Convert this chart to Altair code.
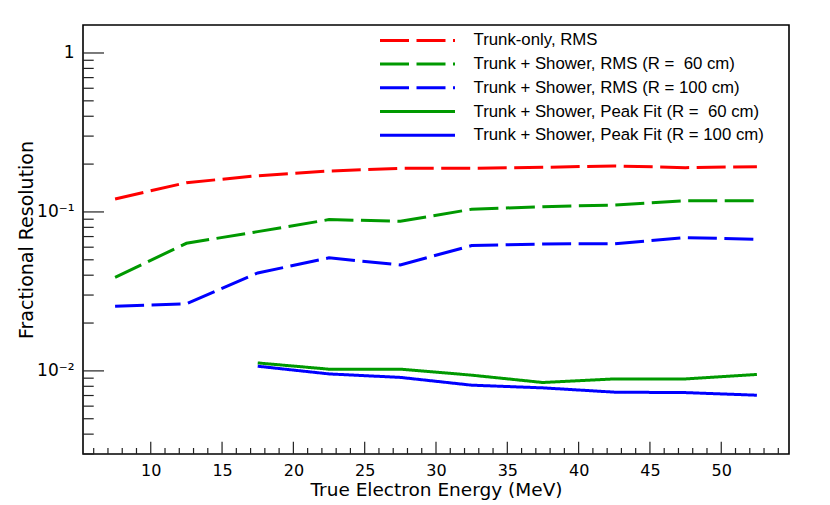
import altair as alt
import pandas as pd

# ---------------- data ----------------
energy = [7.5, 12.5, 17.5, 22.5, 27.5, 32.5, 37.5, 42.5, 47.5, 52.5]
energy_fit = [17.5, 22.5, 27.5, 32.5, 37.5, 42.5, 47.5, 52.5]

trunk_rms = [0.1207, 0.1528, 0.169, 0.181, 0.188, 0.188, 0.191, 0.1946, 0.190, 0.1927]
shower_rms_60 = [0.0388, 0.0635, 0.0752, 0.0895, 0.0873, 0.104, 0.108, 0.1106, 0.1178, 0.1178]
shower_rms_100 = [0.0255, 0.0264, 0.0413, 0.0514, 0.0464, 0.0614, 0.0629, 0.0631, 0.0689, 0.0673]
peak_fit_60 = [0.01122, 0.01025, 0.01025, 0.0094, 0.00845, 0.0089, 0.0089, 0.0095]
peak_fit_100 = [0.0107, 0.00957, 0.0091, 0.00813, 0.00782, 0.00735, 0.0073, 0.00703]

series_names = [
    "Trunk-only, RMS",
    "Trunk + Shower, RMS (R =\u00a0 60 cm)",
    "Trunk + Shower, RMS (R = 100 cm)",
    "Trunk + Shower, Peak Fit (R =\u00a0 60 cm)",
    "Trunk + Shower, Peak Fit (R = 100 cm)",
]
series_colors = ["#ff0000", "#009900", "#0000ff", "#009900", "#0000ff"]
series_dash = [[29, 7.5], [29, 7.5], [29, 7.5], [1, 0], [1, 0]]

x_major = [10, 15, 20, 25, 30, 35, 40, 45, 50]
x_minor = [v for v in range(6, 55) if v % 5 != 0]
y_major = [0.01, 0.1, 1]
y_minor = [0.003, 0.004, 0.005, 0.006, 0.007, 0.008, 0.009,
           0.02, 0.03, 0.04, 0.05, 0.06, 0.07, 0.08, 0.09,
           0.2, 0.3, 0.4, 0.5, 0.6, 0.7, 0.8, 0.9]

# ---------------- build tables ----------------
rows = []
for name, xs, ys in [
    (series_names[0], energy, trunk_rms),
    (series_names[1], energy, shower_rms_60),
    (series_names[2], energy, shower_rms_100),
    (series_names[3], energy_fit, peak_fit_60),
    (series_names[4], energy_fit, peak_fit_100),
]:
    for x, y in zip(xs, ys):
        rows.append({"series": name, "v": x, "w": y})
df = pd.DataFrame(rows)

W, H = 706, 429
xscale = alt.Scale(domain=[5.25, 54.75], nice=False, zero=False)
yscale = alt.Scale(type="log", domain=[0.003, 1.5], nice=False)

x_axis = alt.Axis(values=x_major, ticks=False, domain=False, grid=False,
                  labelFont="DejaVu Sans", labelFontSize=16, labelColor="black",
                  labelPadding=8, labelFlush=False,
                  title="True Electron Energy (MeV)", titleFont="DejaVu Sans",
                  titleFontSize=18.5, titleFontWeight="normal", titleColor="black",
                  titleY=41.5, titleBaseline="alphabetic")
y_axis = alt.Axis(values=y_major, ticks=False, domain=False, grid=False,
                  labelExpr="datum.value >= 0.99 ? '1' : (datum.value >= 0.099 ? '10\u207b\u00b9' : '10\u207b\u00b2')",
                  labelFont="DejaVu Sans", labelFontSize=17, labelColor="black",
                  labelPadding=9,
                  title="Fractional Resolution", titleFont="DejaVu Sans",
                  titleFontSize=19, titleFontWeight="normal", titleColor="black",
                  titleX=-51, titleY=H / 2, titleAngle=270,
                  titleBaseline="alphabetic")

legend_cfg = dict(title=None, orient="none", legendX=295.5, legendY=7,
                  symbolType="stroke", symbolSize=5625,
                  symbolStrokeWidth=3, clipHeight=16.8, rowPadding=5.7,
                  labelOffset=17, labelFont="Liberation Sans",
                  labelFontSize=16.8, labelColor="black",
                  labelLimit=400, padding=0)

lines = alt.Chart(df).mark_line(strokeWidth=3, clip=True, strokeCap="butt").encode(
    x=alt.X("v:Q", scale=xscale, axis=x_axis, title="True Electron Energy (MeV)"),
    y=alt.Y("w:Q", scale=yscale, axis=y_axis, title="Fractional Resolution"),
    color=alt.Color("series:N",
                    scale=alt.Scale(domain=series_names, range=series_colors),
                    legend=alt.Legend(**legend_cfg)),
    strokeDash=alt.StrokeDash("series:N",
                              scale=alt.Scale(domain=series_names, range=series_dash),
                              legend=alt.Legend(**legend_cfg)),
    detail="series:N",
    order="v:Q",
)

tick_color = "#222222"
xt_major = alt.Chart(pd.DataFrame({"v": x_major})).mark_rule(color=tick_color, strokeWidth=1.2).encode(
    x=alt.X("v:Q", scale=xscale, axis=x_axis, title="True Electron Energy (MeV)"),
    y=alt.value(H), y2=alt.value(H - 12.3))
xt_minor = alt.Chart(pd.DataFrame({"v": x_minor})).mark_rule(color=tick_color, strokeWidth=1.2).encode(
    x=alt.X("v:Q", scale=xscale, axis=x_axis, title="True Electron Energy (MeV)"),
    y=alt.value(H), y2=alt.value(H - 6))
yt_major = alt.Chart(pd.DataFrame({"w": y_major})).mark_rule(color=tick_color, strokeWidth=1.2).encode(
    y=alt.Y("w:Q", scale=yscale, axis=y_axis, title="Fractional Resolution"),
    x=alt.value(0), x2=alt.value(21))
yt_minor = alt.Chart(pd.DataFrame({"w": y_minor})).mark_rule(color=tick_color, strokeWidth=1.2).encode(
    y=alt.Y("w:Q", scale=yscale, axis=y_axis, title="Fractional Resolution"),
    x=alt.value(0), x2=alt.value(10.7))

chart = alt.layer(lines, xt_major, xt_minor, yt_major, yt_minor).properties(
    width=W, height=H,
    padding={"left": 75, "top": 17, "right": 30, "bottom": 46},
    autosize=alt.AutoSizeParams(type="none"),
    background="white",
).configure_view(stroke="black", strokeWidth=1.6)

chart.save("out.html", embed_options={"renderer": "svg", "actions": False})
